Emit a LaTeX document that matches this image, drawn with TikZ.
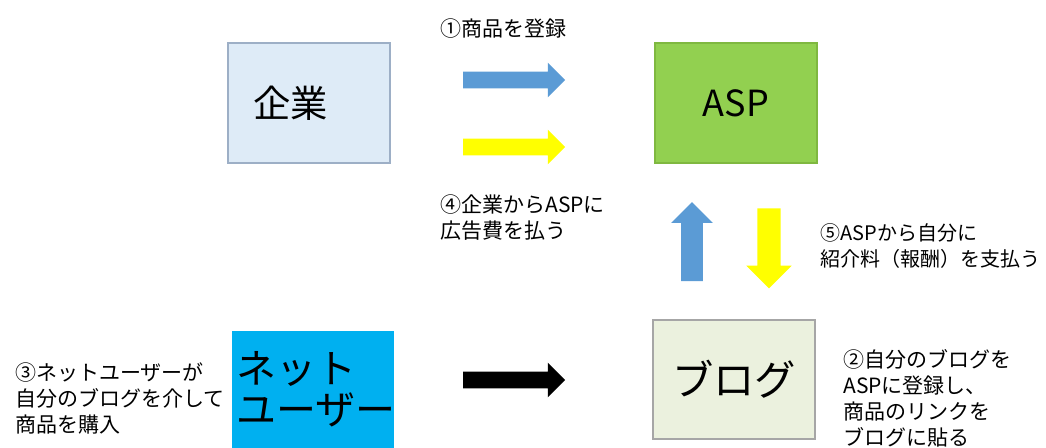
\documentclass[tikz,border=0pt]{standalone}
\usepackage{fontspec}
\setmainfont{Noto Sans CJK JP}
\usetikzlibrary{shapes.arrows}
\definecolor{kigyoF}{HTML}{DEEBF7}
\definecolor{kigyoB}{HTML}{9DAFC6}
\definecolor{aspF}{HTML}{92D050}
\definecolor{aspB}{HTML}{7FB840}
\definecolor{netF}{HTML}{00B0F0}
\definecolor{blogF}{HTML}{EBF1DE}
\definecolor{blogB}{HTML}{A6A6A6}
\definecolor{arrBlue}{HTML}{5B9BD5}
\definecolor{arrYellow}{HTML}{FFFF00}
\tikzset{
  box/.style={rectangle, minimum width=121.5pt, minimum height=90pt, line width=0.8pt, inner sep=0pt},
  bigtext/.style={font=\fontsize{28pt}{31pt}\selectfont},
  lbl/.style={font=\fontsize{15.75pt}{19.5pt}\selectfont, align=left, anchor=west, inner sep=0pt},
  harrow/.style={single arrow, draw=none, inner xsep=0pt, inner ysep=6pt, minimum height=76.5pt, minimum width=25.5pt, single arrow head extend=6.75pt},
}
\begin{document}
\begin{tikzpicture}[x=0.75pt,y=-0.75pt]
\useasboundingbox (0,0) rectangle (1046,448);
\clip (0,0) rectangle (1046,448);
% boxes
\node[box, fill=kigyoF, draw=kigyoB, text width=84pt, inner xsep=18.75pt, align=left, bigtext] (kigyo) at (309,103) {企業};
\node[box, fill=aspF, draw=aspB, font=\fontsize{27pt}{30pt}\selectfont] (asp) at (736,103) {ASP};
\node[box, fill=netF, draw=none, minimum height=87.75pt, text width=115.5pt, inner xsep=3pt, align=left, font=\fontsize{30pt}{30.75pt}\selectfont] (net) at (313,389.5) {ネット\\ユーザー};
\node[box, fill=blogF, draw=blogB, minimum height=89.25pt, font=\fontsize{31pt}{33pt}\selectfont] (blog) at (734,379.5) {ブログ};
% arrows
\node[harrow, fill=arrBlue] (a1) at (510,80) {};
\node[harrow, fill=arrYellow] (a4) at (510,147) {};
\node[harrow, fill=black] (a3) at (510,380) {};
\node[single arrow, draw=none, fill=arrBlue, rotate=90, inner xsep=0pt, inner ysep=7.9pt, minimum height=59.25pt, minimum width=30.75pt, single arrow head extend=7.5pt] (a2) at (692,247) {};
\node[single arrow, draw=none, fill=arrYellow, rotate=-90, inner xsep=0pt, inner ysep=8.6pt, minimum height=60pt, minimum width=33.75pt, single arrow head extend=8.25pt] (a5) at (769,242.5) {};
% labels
\node[lbl] (l1) at (440,29) {①商品を登録};
\node[lbl] (l4) at (440,217.5) {④企業からASPに\\広告費を払う};
\node[lbl, font=\fontsize{15pt}{19.5pt}\selectfont] (l5) at (820,246.5) {⑤ASPから自分に\\紹介料（報酬）を支払う};
\node[lbl] (l3) at (15,398) {③ネットユーザーが\\自分のブログを介して\\商品を購入};
\node[lbl] (l2) at (843,398) {②自分のブログを\\ASPに登録し、\\商品のリンクを\\ブログに貼る};
\end{tikzpicture}
\end{document}
